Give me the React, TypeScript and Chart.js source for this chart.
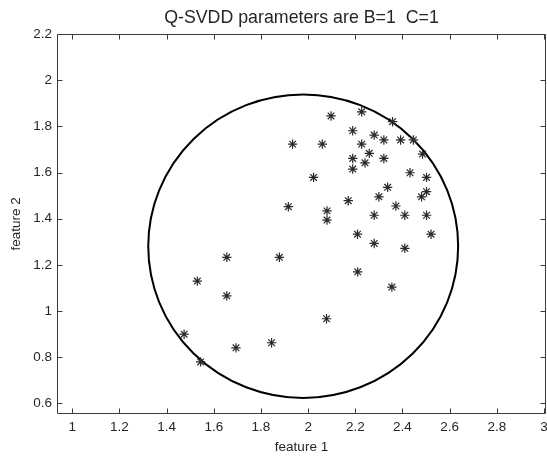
import React, { useEffect, useRef } from "react";
import { Chart, registerables } from "chart.js";

Chart.register(...registerables);

const titleText = "Q-SVDD parameters are B=1  C=1";
const xLabel = "feature 1";
const yLabel = "feature 2";

const featureX = [
  2.097, 2.227, 2.358, 2.189, 2.280, 2.321, 2.392, 2.446, 1.934, 2.060,
  2.227, 2.259, 2.189, 2.321, 2.485, 2.241, 2.189, 2.023, 2.432, 2.502,
  2.337, 2.502, 2.481, 2.300, 2.170, 1.916, 2.372, 2.080, 2.080, 2.280,
  2.410, 2.502, 2.209, 2.521, 2.280, 2.410, 1.655, 1.878, 1.530, 2.210,
  2.355, 1.655, 2.078, 1.474, 1.845, 1.694, 1.544,
];
const featureY = [
  1.845, 1.863, 1.820, 1.781, 1.762, 1.741, 1.741, 1.741, 1.723, 1.723,
  1.723, 1.683, 1.661, 1.661, 1.680, 1.642, 1.615, 1.579, 1.599, 1.579,
  1.536, 1.517, 1.495, 1.495, 1.478, 1.452, 1.455, 1.434, 1.394, 1.415,
  1.415, 1.415, 1.333, 1.333, 1.293, 1.272, 1.233, 1.233, 1.130, 1.170,
  1.104, 1.066, 0.967, 0.900, 0.863, 0.841, 0.780,
];

const xTickValues = [1, 1.2, 1.4, 1.6, 1.8, 2, 2.2, 2.4, 2.6, 2.8, 3];
const yTickValues = [0.6, 0.8, 1, 1.2, 1.4, 1.6, 1.8, 2, 2.2];
const xRange = [0.9351, 3.0085];
const yRange = [0.5545, 2.2];

const circleCenterX = 1.979;
const circleCenterY = 1.281;
const circleRadius = 0.657;

const axisColor = "#3c3c3c";
const textColor = "#262626";
const fontFamily = "'Liberation Sans', Arial, sans-serif";

const decorPlugin = {
  id: "decor",
  beforeDatasetsDraw(chart: any) {
    const { ctx, scales } = chart;
    const x = scales.x;
    const y = scales.y;
    const cx = x.getPixelForValue(circleCenterX);
    const cy = y.getPixelForValue(circleCenterY);
    const rx = Math.abs(x.getPixelForValue(circleCenterX + circleRadius) - cx);
    const ry = Math.abs(y.getPixelForValue(circleCenterY + circleRadius) - cy);
    ctx.save();
    ctx.beginPath();
    ctx.ellipse(cx, cy, rx, ry, 0, 0, Math.PI * 2);
    ctx.lineWidth = 2;
    ctx.strokeStyle = "#000";
    ctx.stroke();
    ctx.restore();
  },
  afterDraw(chart: any) {
    const { ctx, chartArea: a, scales } = chart;
    const x = scales.x;
    const y = scales.y;
    const L = Math.round(a.left) + 0.5;
    const R = Math.round(a.right) - 0.5;
    const T = Math.round(a.top) + 0.5;
    const B = Math.round(a.bottom) - 0.5;
    const tl = 5;
    ctx.save();
    ctx.strokeStyle = axisColor;
    ctx.lineWidth = 1;
    ctx.beginPath();
    ctx.rect(L, T, R - L, B - T);
    for (const v of xTickValues) {
      const px = Math.round(x.getPixelForValue(v)) + 0.5;
      ctx.moveTo(px, B);
      ctx.lineTo(px, B - tl);
      ctx.moveTo(px, T);
      ctx.lineTo(px, T + tl);
    }
    for (const v of yTickValues) {
      const py = Math.round(y.getPixelForValue(v)) + 0.5;
      ctx.moveTo(L, py);
      ctx.lineTo(L + tl, py);
      ctx.moveTo(R, py);
      ctx.lineTo(R - tl, py);
    }
    ctx.stroke();
    ctx.restore();
  },
};

export default function App() {
  const ref = useRef<HTMLCanvasElement | null>(null);
  useEffect(() => {
    if (!ref.current) return;
    const chart = new Chart(ref.current, {
      type: "scatter",
      data: {
        datasets: [
          {
            data: featureX.map((v, i) => ({ x: v, y: featureY[i] })),
            pointStyle: "star",
            pointRadius: 4.7,
            pointBorderWidth: 1.2,
            borderColor: "#2a2a2a",
            backgroundColor: "#2a2a2a",
          },
        ],
      },
      options: {
        animation: false,
        responsive: true,
        maintainAspectRatio: false,
        events: [],
        layout: { autoPadding: false, padding: { left: 0, right: 1, top: 0, bottom: 0 } },
        plugins: {
          legend: { display: false },
          tooltip: { enabled: false },
          title: {
            display: true,
            text: titleText,
            fullSize: false,
            color: textColor,
            font: { family: fontFamily, size: 17.8, weight: "normal", lineHeight: 1.2 },
            padding: { top: 7, bottom: 5.6 },
          },
        },
        scales: {
          x: {
            type: "linear",
            min: xRange[0],
            max: xRange[1],
            afterFit: (s: any) => {
              s.height = 43;
              s.paddingLeft = 0;
              s.paddingRight = 0;
            },
            afterBuildTicks: (s: any) => {
              s.ticks = xTickValues.map((v) => ({ value: v }));
            },
            ticks: {
              color: textColor,
              font: { family: fontFamily, size: 13.5 },
              padding: 5,
              maxRotation: 0,
              autoSkip: false,
              callback: (v: any) => String(v),
            },
            grid: { display: false, drawTicks: false },
            border: { display: false },
            title: {
              display: true,
              text: xLabel,
              color: textColor,
              font: { family: fontFamily, size: 13.5, lineHeight: 1.2 },
              padding: { top: 0, bottom: 1.5 },
            },
          },
          y: {
            type: "linear",
            min: yRange[0],
            max: yRange[1],
            afterFit: (s: any) => {
              s.width = 57;
              s.paddingTop = 0;
              s.paddingBottom = 0;
            },
            afterBuildTicks: (s: any) => {
              s.ticks = yTickValues.map((v) => ({ value: v }));
            },
            ticks: {
              color: textColor,
              font: { family: fontFamily, size: 13.5 },
              padding: 5,
              autoSkip: false,
              callback: (v: any) => String(v),
            },
            grid: { display: false, drawTicks: false },
            border: { display: false },
            title: {
              display: true,
              text: yLabel,
              color: textColor,
              font: { family: fontFamily, size: 13.5, lineHeight: 1.2 },
              padding: { top: 8, bottom: 0 },
            },
          },
        },
      },
      plugins: [decorPlugin],
    });
    return () => chart.destroy();
  }, []);

  return (
    <div style={{ position: "fixed", left: 0, top: 0, width: 547, height: 457, background: "#fff" }}>
      <canvas ref={ref} />
    </div>
  );
}
